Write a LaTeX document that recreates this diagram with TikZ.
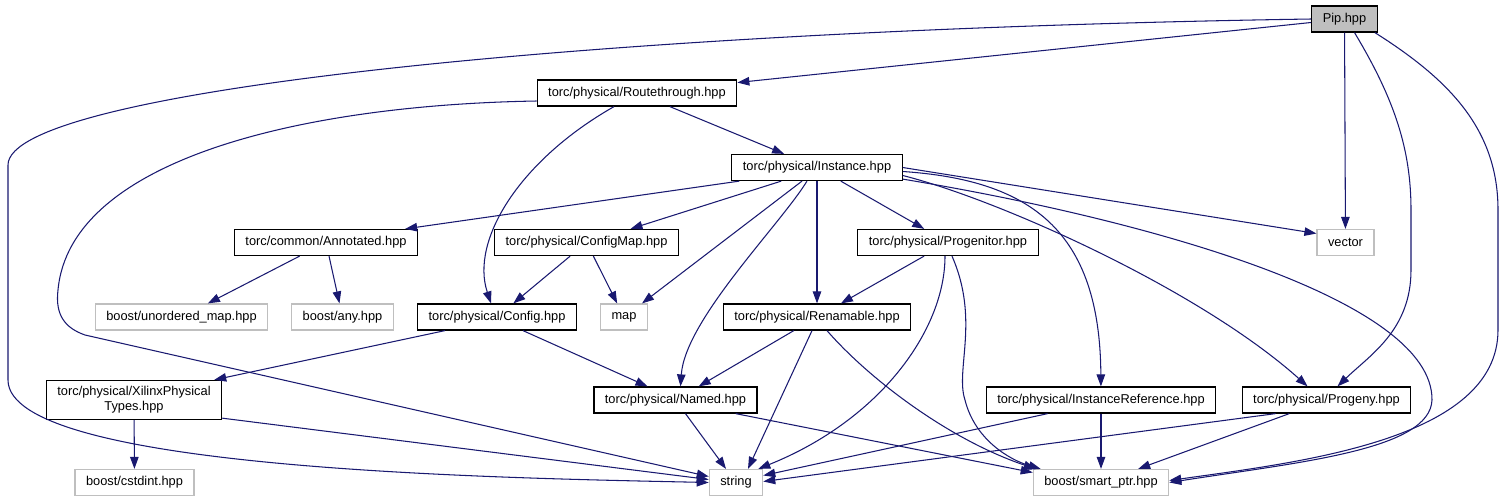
\documentclass[tikz,border=0pt]{standalone}
\usepackage{fontspec}
\setmainfont{Liberation Sans}
\usetikzlibrary{calc, arrows.meta}
\definecolor{edgeblue}{HTML}{191970}
\definecolor{extgray}{HTML}{BFBFBF}
\tikzset{
  % Header boxes
  filebox/.style={rectangle, draw=black, line width=0.7pt, fill=white, minimum height=0.52cm,
    inner xsep=0.22cm, inner ysep=0.12cm, align=center, font=\fontsize{7.3}{8.6}\selectfont},
  extbox/.style={filebox, draw=extgray},
  rootbox/.style={filebox, fill=extgray},
  % Include edges
  incl/.style={draw=edgeblue, line width=0.6pt, -{Triangle[length=2.4mm, width=1.7mm]}},
}

\begin{document}
\begin{tikzpicture}[x=0.02cm, y=-0.02cm]
  \useasboundingbox (0,0) rectangle (1505,501);

  % --- ROW 0 / 1 ---
  \node[rootbox] (pip)   at (1344.5,19) {Pip.hpp};
  \node[filebox] (route) at (637,93)    {torc/physical/Routethrough.hpp};
  \node[filebox] (inst)  at (817,167.5) {torc/physical/Instance.hpp};

  % --- ROW 2 ---
  \node[filebox] (annot)  at (326,242.5)    {torc/common/Annotated.hpp};
  \node[filebox] (cmap)   at (586.5,242.5)  {torc/physical/ConfigMap.hpp};
  \node[filebox] (progen) at (948,242.5)    {torc/physical/Progenitor.hpp};
  \node[extbox]  (vector) at (1345.5,242.5) {vector};

  % --- ROW 3 ---
  \node[extbox]  (umap)   at (181.5,317) {boost/unordered\_map.hpp};
  \node[extbox]  (any)    at (342.5,317) {boost/any.hpp};
  \node[filebox] (config) at (497,317)   {torc/physical/Config.hpp};
  \node[extbox]  (map)    at (624,317)   {map};
  \node[filebox] (renam)  at (817,317)   {torc/physical/Renamable.hpp};

  % --- ROW 4 ---
  \node[filebox] (xil)     at (134,400)    {torc/physical/XilinxPhysical\\Types.hpp};
  \node[filebox] (named)   at (675.5,400)  {torc/physical/Named.hpp};
  \node[filebox] (instref) at (1101,400)   {torc/physical/InstanceReference.hpp};
  \node[filebox] (progeny) at (1326.5,400) {torc/physical/Progeny.hpp};

  % --- ROW 5 ---
  \node[extbox] (cstd)   at (134.5,482.5) {boost/cstdint.hpp};
  \node[extbox] (string) at (736,482.5)   {string};
  \node[extbox] (smart)  at (1101,482.5)  {boost/smart\_ptr.hpp};

  % Pip.hpp
  \draw[incl] (pip.west) .. controls (600,30) and (8,90) .. (8,165) -- (8,380)
    .. controls (8,470) and (500,478) .. (string.west);
  \draw[incl] (pip) -- (route);
  \draw[incl] (pip) -- (vector);
  \draw[incl] ($(pip.south)+(10,0)$) .. controls (1395,100) and (1411,150) .. (1411,210) -- (1411,270)
    .. controls (1411,330) and (1370,355) .. ($(progeny.north)+(11,0)$);
  \draw[incl] ($(pip.south east)+(-3,0)$) .. controls (1450,80) and (1498,130) .. (1498,210) -- (1498,330)
    .. controls (1498,440) and (1300,462) .. ($(smart.east)+(0,-2)$);

  % Routethrough.hpp
  \draw[incl] ($(route.west)+(0,8)$) .. controls (300,105) and (70,160) .. (58,290)
    .. controls (55,315) and (65,328) .. (85,335) -- ($(string.west)+(0,-6)$);
  \draw[incl] ($(route.south)+(-23,0)$) .. controls (520,160) and (470,240) .. ($(config.north)+(-6,0)$);
  \draw[incl] (route) -- (inst);

  % Instance.hpp
  \draw[incl] ($(inst.south west)+(8,0)$) -- ($(annot.north east)+(-13,0)$);
  \draw[incl] ($(inst.south west)+(50,0)$) -- ($(cmap.north)+(44,0)$);
  \draw[incl] ($(inst.south)+(-15,0)$) -- ($(map.north)+(18,0)$);
  \draw[incl] ($(inst.south)+(-10,0)$) .. controls (780,225) and (685,320) .. ($(named.north)+(5,0)$);
  \draw[incl] (inst) -- (renam);
  \draw[incl] (inst) -- (progen);
  \draw[incl] ($(inst.east)+(0,4)$) .. controls (1030,180) and (1100,230) .. (instref);
  \draw[incl] (inst.east) -- ($(vector.west)+(0,-9)$);
  \draw[incl] ($(inst.east)+(0,8)$) .. controls (1000,200) and (1200,290) .. ($(progeny.north west)+(66,0)$);
  \draw[incl] ($(inst.south east)+(0,-2)$) .. controls (1150,220) and (1433,300) .. (1432,400)
    .. controls (1430,450) and (1300,462) .. (smart.east);

  % Annotated.hpp
  \draw[incl] (annot) -- (umap);
  \draw[incl] (annot) -- (any);

  % ConfigMap.hpp
  \draw[incl] (cmap) -- (config);
  \draw[incl] (cmap) -- (map);

  % Progenitor.hpp
  \draw[incl] (progen) -- (renam);
  \draw[incl] ($(progen.south)+(-3,0)$) .. controls (945,330) and (880,420) .. ($(string.north east)+(-5,0)$);
  \draw[incl] ($(progen.south)+(4,0)$) .. controls (980,320) and (955,370) .. (965,400)
    .. controls (975,440) and (1010,460) .. ($(smart.north west)+(8,0)$);

  % Config.hpp
  \draw[incl] ($(config.south west)+(28,0)$) -- ($(xil.north east)+(-8,0)$);
  \draw[incl] ($(config.south)+(26,0)$) -- ($(named.north)+(-28,0)$);

  % Renamable.hpp
  \draw[incl] (renam) -- (named);
  \draw[incl] ($(renam.south)+(-5,0)$) -- ($(string.north)+(12,0)$);
  \draw[incl] ($(renam.south)+(10,0)$) .. controls (870,380) and (950,440) .. ($(smart.north west)+(3,0)$);

  % XilinxPhysicalTypes.hpp
  \draw[incl] (xil) -- (cstd);
  \draw[incl] ($(xil.south east)+(0,-2)$) -- ($(string.west)+(0,-3)$);

  % Named.hpp
  \draw[incl] (named) -- (string);
  \draw[incl] ($(named.south east)+(-22,0)$) -- ($(smart.west)+(0,-10)$);

  % InstanceReference.hpp
  \draw[incl] ($(instref.south west)+(62,0)$) -- ($(string.east)+(0,-7)$);
  \draw[incl] (instref) -- (smart);

  % Progeny.hpp
  \draw[incl] ($(progeny.south west)+(34,0)$) -- ($(string.east)+(0,-1)$);
  \draw[incl] (progeny) -- (smart);

\end{tikzpicture}
\end{document}
